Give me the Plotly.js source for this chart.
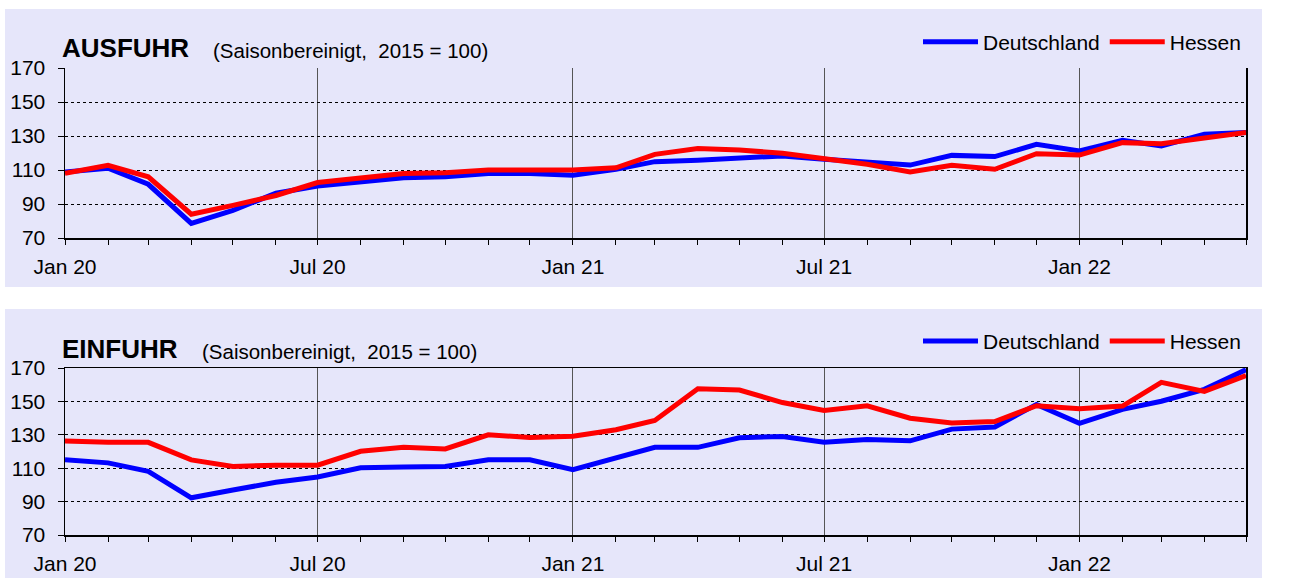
<!DOCTYPE html>
<html>
<head>
<meta charset="utf-8">
<script src="https://cdn.plot.ly/plotly-3.0.1.min.js"></script>
<style>
  html, body { margin:0; padding:0; background:#ffffff; width:1291px; height:578px; overflow:hidden; }
  .panel { position:absolute; left:5px; width:1257px; background:#E6E6FA; }
  #p1 { top:9px; height:278px; }
  #p2 { top:309px; height:269px; }
</style>
</head>
<body>
<div id="p1" class="panel"></div>
<div id="p2" class="panel"></div>
<script>
const months = [
  '2020-01-01','2020-02-01','2020-03-01','2020-04-01','2020-05-01','2020-06-01',
  '2020-07-01','2020-08-01','2020-09-01','2020-10-01','2020-11-01','2020-12-01',
  '2021-01-01','2021-02-01','2021-03-01','2021-04-01','2021-05-01','2021-06-01',
  '2021-07-01','2021-08-01','2021-09-01','2021-10-01','2021-11-01','2021-12-01',
  '2022-01-01','2022-02-01','2022-03-01','2022-04-01','2022-05-01'
];
const seriesNames = ['Deutschland', 'Hessen'];

const ausfuhrDeutschland = [108.8, 111.0, 101.6, 78.6, 86.3, 96.3, 100.6, 103.2, 105.5, 106.1, 108.0, 108.0,
  106.9, 110.4, 114.9, 115.7, 117.3, 118.3, 116.3, 114.9, 112.9, 118.6, 117.9, 125.1,
  121.2, 127.5, 124.1, 131.0, 132.0];
const ausfuhrHessen = [108.0, 112.8, 106.0, 84.0, 89.2, 95.0, 102.6, 105.3, 107.9, 108.4, 110.0, 110.0,
  110.0, 111.3, 119.2, 122.6, 121.8, 119.8, 116.3, 113.4, 108.8, 112.8, 110.4, 119.6,
  118.8, 126.1, 125.5, 129.0, 132.0];

const einfuhrDeutschland = [115.0, 113.2, 108.1, 92.3, 96.9, 101.6, 104.7, 110.3, 110.7, 111.0, 115.0, 115.0,
  109.1, 116.2, 122.5, 122.5, 128.2, 129.0, 125.5, 127.2, 126.4, 133.4, 134.7, 148.2,
  136.9, 145.2, 150.1, 157.2, 169.0];
const einfuhrHessen = [126.3, 125.5, 125.5, 115.0, 111.0, 111.8, 111.8, 120.1, 122.5, 121.5, 130.0, 128.4,
  129.2, 133.0, 138.6, 157.6, 156.8, 149.3, 144.6, 147.4, 139.9, 137.1, 137.9, 147.4,
  145.6, 147.2, 161.4, 156.0, 165.5];

const titles = ['AUSFUHR', 'EINFUHR'];
const subtitle = '(Saisonbereinigt,  2015 = 100)';
const yTicks = [70, 90, 110, 130, 150, 170];

const FONT = 'Liberation Sans, Arial, sans-serif';
const BG = '#E6E6FA';

function makeChart(div, title, de, he, opts) {
  const traces = [
    { x: months, y: de, name: seriesNames[0], type: 'scatter', mode: 'lines',
      line: { color: '#0000FF', width: 5 } },
    { x: months, y: he, name: seriesNames[1], type: 'scatter', mode: 'lines',
      line: { color: '#FF0000', width: 5 } }
  ];
  const layout = {
    width: 1257, height: opts.height,
    margin: { l: 60, r: 16, t: opts.t, b: opts.b, pad: 0 },
    paper_bgcolor: BG, plot_bgcolor: BG,
    font: { family: FONT, size: 20, color: '#000' },
    showlegend: true,
    legend: {
      orientation: 'h', x: 1, xanchor: 'right', y: opts.legendY, yanchor: 'middle',
      bgcolor: 'rgba(0,0,0,0)', font: { family: FONT, size: 21, color: '#000' },
      itemwidth: 55, tracegroupgap: 0
    },
    xaxis: {
      type: 'date',
      range: [months[0], months[months.length - 1]],
      dtick: 'M6', tick0: '2020-01-01', tickformat: '%b %y',
      ticks: 'outside', ticklen: 5, tickcolor: '#000', tickwidth: 1,
      ticklabelstandoff: 4,
      showgrid: true, gridcolor: '#555', gridwidth: 1,
      showline: true, linecolor: '#000', linewidth: 1.5, mirror: opts.mirrorX,
      zeroline: false,
      tickfont: { family: FONT, size: 21, color: '#000' },
      minor: { dtick: 'M1', tick0: '2020-01-01', ticks: 'outside', ticklen: 5, tickcolor: '#000', showgrid: false }
    },
    yaxis: {
      range: [70, 170], tickvals: yTicks, ticktext: yTicks.map(String),
      ticks: 'outside', ticklen: 6, tickcolor: '#000',
      ticklabelstandoff: 8,
      showgrid: true, gridcolor: '#000', gridwidth: 1, griddash: 'dot',
      showline: true, linecolor: '#000', linewidth: 1.5, mirror: true,
      zeroline: false,
      tickfont: { family: FONT, size: 21, color: '#000' }
    },
    annotations: [
      { xref: 'paper', yref: 'paper', x: 0, y: 1, xanchor: 'left', yanchor: 'middle',
        xshift: -5, yshift: opts.titleShift, showarrow: false,
        text: '<b>' + title + '</b>', font: { family: FONT, size: 26, color: '#000' } },
      { xref: 'paper', yref: 'paper', x: 0, y: 1, xanchor: 'left', yanchor: 'middle',
        xshift: opts.subX, yshift: opts.titleShift - 2, showarrow: false,
        text: subtitle, font: { family: FONT, size: 20.5, color: '#000' } }
    ]
  };
  Plotly.newPlot(div, traces, layout, { staticPlot: true, displayModeBar: false });
}

makeChart('p1', titles[0], ausfuhrDeutschland, ausfuhrHessen,
  { height: 278, t: 59, b: 49, legendY: 1.153, mirrorX: false, titleShift: 20, subX: 146 });
makeChart('p2', titles[1], einfuhrDeutschland, einfuhrHessen,
  { height: 269, t: 57, b: 43, legendY: 1.16, mirrorX: true, titleShift: 19, subX: 135 });
</script>
</body>
</html>
